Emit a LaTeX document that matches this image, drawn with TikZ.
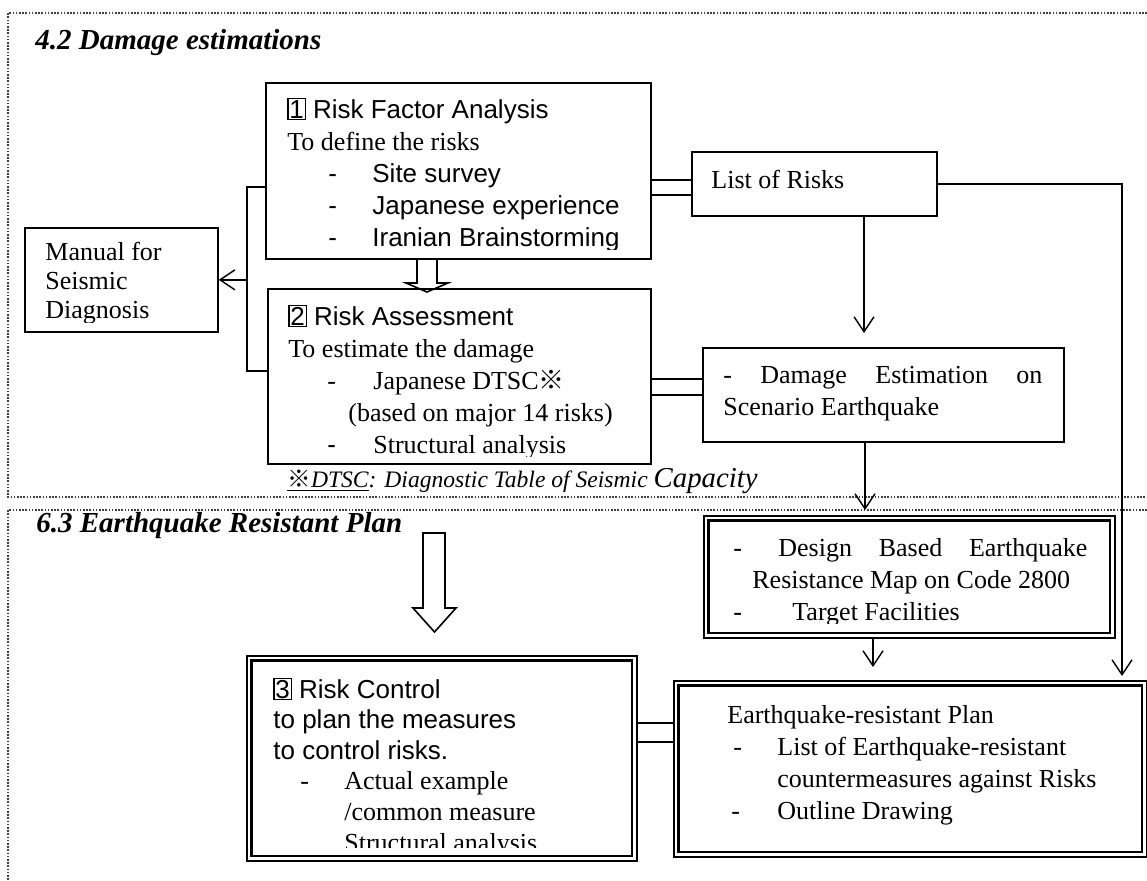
\documentclass[tikz,border=0pt]{standalone}
\usepackage{fontspec}
\setmainfont{Liberation Serif}
\setsansfont{Liberation Sans}
\newfontfamily\cjk{Noto Sans CJK JP}
\usetikzlibrary{arrows.meta, positioning, backgrounds, calc}
\newcommand{\nbox}[1]{{\setlength{\fboxsep}{0.4pt}\setlength{\fboxrule}{0.6pt}\fbox{#1}}}
\newcommand{\kome}{{\cjk ※}}
\newcommand{\dashitem}[3]{\hspace*{#1}\makebox[#2][l]{-}#3}
\tikzset{
  box/.style={draw=black, line width=0.85pt, anchor=north west, inner sep=0pt},
  innerline/.style={line width=1.3pt},
  txt/.style={anchor=base west, align=left, inner sep=0pt,
              font=\fontsize{13}{16}\selectfont},
  head/.style={anchor=base west, inner sep=0pt,
               font=\fontsize{14.5}{17}\selectfont\bfseries\itshape},
  link/.style={line width=0.7pt},
  twin/.style={double, line width=0.65pt},
  arr/.style={-{Straight Barb[length=7.5pt,width=10pt]}, line width=0.7pt},
  frame/.style={line width=0.7pt, black!75, dash pattern=on 0.8pt off 0.8pt},
  hollow/.style={draw, line width=0.8pt},
}
\begin{document}
\begin{tikzpicture}[x=0.5pt, y=-0.5pt]
    \useasboundingbox (0,0) rectangle (1147,880);
    %% section frames
    \draw[frame] (1147,13) -- (8,13) -- (8,497) -- (1147,497);
    \draw[frame] (1147,510) -- (8,510) -- (8,880);
    \node[head] (t42) at (35,49) {4.2 Damage estimations};
    \node[head] (t63) at (36,532) {6.3 Earthquake Resistant Plan};
    %% boxes
    \node[box, minimum width=192.5pt, minimum height=88pt]   (rfa)  at (265,82)  {};
    \node[box, minimum width=191.5pt, minimum height=87.5pt] (ra)   at (267,288) {};
    \node[box, minimum width=96.5pt,  minimum height=52pt]   (man)  at (24,227)  {};
    \node[box, minimum width=122.5pt, minimum height=32pt]   (lor)  at (691,151) {};
    \node[box, minimum width=180.5pt, minimum height=47pt]   (dam)  at (702,347) {};
    \node[box, minimum width=205.5pt, minimum height=61pt]   (des)  at (703,515) {};
    \node[box, minimum width=195pt,   minimum height=102.5pt](rc)   at (246,655) {};
    \node[box, minimum width=236.5pt, minimum height=88pt]   (plan) at (673,680) {};
    %% inner lines of the double boxes
    \draw[innerline] ([shift={(2.8pt,-2.8pt)}]des.north west) rectangle ([shift={(-2.8pt,2.8pt)}]des.south east);
    \draw[innerline] ([shift={(2.8pt,-2.8pt)}]rc.north west) rectangle ([shift={(-2.8pt,2.8pt)}]rc.south east);
    \draw[innerline] ([shift={(2.8pt,-2.8pt)}]plan.north west) rectangle ([shift={(-2.8pt,2.8pt)}]plan.south east);
    %% box texts (anchored on the last line)
    \begin{scope}
      \clip (rfa.north west) rectangle ([yshift=5pt]rfa.south east);
      \node[txt] (rfaT) at (287,246) {%
        \sffamily\nbox{1} Risk Factor Analysis\\
        \rmfamily To define the risks\\
        \sffamily\dashitem{20.5pt}{22pt}{Site survey}\\
        \sffamily\dashitem{20.5pt}{22pt}{Japanese experience}\\
        \sffamily\dashitem{20.5pt}{22pt}{Iranian Brainstorming}};
    \end{scope}
    \begin{scope}
      \clip (ra.north west) rectangle ([yshift=4pt]ra.south east);
      \node[txt] (raT) at (288,453) {%
        \sffamily\nbox{2} Risk Assessment\\
        \rmfamily To estimate the damage\\
        \rmfamily\dashitem{19.5pt}{23pt}{Japanese DTSC\kome}\\
        \rmfamily\hspace*{30pt}(based on major 14 risks)\\
        \sffamily\dashitem{19.5pt}{23pt}{\rmfamily Structural analysis}};
    \end{scope}
    \begin{scope}
      \clip (man.north west) rectangle ([yshift=5pt]man.south east);
      \node[txt, font=\fontsize{13}{14.5}\selectfont] (manT) at (45,318)
        {Manual for\\Seismic\\Diagnosis};
    \end{scope}
    \node[txt] (lorT) at (711,188) {List of Risks};
    \node[txt] (damT) at (723,415) {%
      \makebox[159.5pt][s]{- Damage Estimation on}\\
      Scenario Earthquake};
    \begin{scope}
      \clip (des.north west) rectangle ([yshift=7.5pt]des.south east);
      \node[txt] (desT) at (733,620) {%
        \makebox[22.5pt][l]{-}\makebox[154.5pt][s]{Design Based Earthquake}\\
        \hspace*{9.5pt}Resistance Map on Code 2800\\
        \makebox[29.5pt][l]{-}Target Facilities};
    \end{scope}
    \begin{scope}
      \clip (rc.north west) rectangle ([yshift=7pt]rc.south east);
      \node[txt, font=\fontsize{13}{15.3}\selectfont] (rcT) at (273,851) {%
        \sffamily\nbox{3} Risk Control\\
        \sffamily to plan the measures\\
        \sffamily to control risks.\\
        \rmfamily\dashitem{13.5pt}{22pt}{Actual example}\\
        \rmfamily\hspace*{35.5pt}/common measure\\
        \rmfamily\hspace*{35.5pt}Structural analysis};
    \end{scope}
    \node[txt] (planT) at (727,819) {%
      Earthquake-resistant Plan\\
      \dashitem{3pt}{22pt}{List of Earthquake-resistant}\\
      \hspace*{25pt}countermeasures against Risks\\
      \dashitem{2pt}{23pt}{Outline Drawing}};
    %% footnote
    \node[txt, font=\fontsize{11.8}{14}\selectfont\itshape] (note) at (287,487)
      {\underline{\kome DTSC}: Diagnostic Table of Seismic {\fontsize{14.4}{16}\selectfont Capacity}};
    %% bracket to the manual
    \coordinate (brT) at (247,187);
    \coordinate (brB) at (247,371);
    \draw[link] (rfa.west |- brT) -- (brT) -- (brB) -- (ra.west |- brB);
    \draw[arr] (brT |- man.east) -- (man.east);
    %% double connectors
    \coordinate (j1) at (670,187.5);
    \coordinate (j2) at (676,387);
    \coordinate (j3) at (655,732.5);
    \begin{scope}[on background layer]
      \draw[twin, double distance=6.85pt] (rfa.east |- j1) -- (lor.west |- j1);
      \draw[twin, double distance=7.35pt] (ra.east |- j2) -- (dam.west |- j2);
      \draw[twin, double distance=8.85pt] (rc.east |- j3) -- (plan.west |- j3);
    \end{scope}
    %% arrows
    \coordinate (a1) at (864,333);
    \coordinate (a2) at (865,510);
    \coordinate (a3) at (873,667);
    \coordinate (a4) at (1122,676);
    \draw[arr] (lor.south -| a1) -- (a1);
    \draw[arr] (dam.south -| a2) -- (a2);
    \draw[arr] (des.south -| a3) -- (a3);
    \draw[arr] (lor.east) -| (a4);
    %% hollow arrows
    \draw[hollow] (417,258) -- (417,283) -- (406,283) -- (427,292)
                  -- (448,283) -- (437,283) -- (437,258);
    \draw[hollow] (423,533) -- (445,533) -- (445,608) -- (456,608)
                  -- (434.5,632) -- (413,608) -- (423,608) -- cycle;
\end{tikzpicture}
\end{document}
